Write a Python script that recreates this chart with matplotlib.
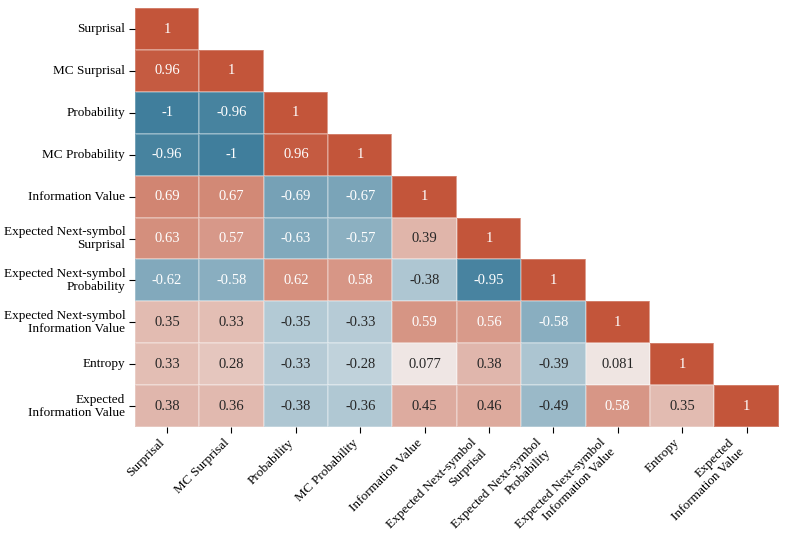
import numpy as np
import matplotlib
matplotlib.use("Agg")
import matplotlib.pyplot as plt
import seaborn as sns

# --- DATA ---
labels = [
    "Surprisal",
    "MC Surprisal",
    "Probability",
    "MC Probability",
    "Information Value",
    "Expected Next-symbol\nSurprisal",
    "Expected Next-symbol\nProbability",
    "Expected Next-symbol\nInformation Value",
    "Entropy",
    "Expected\nInformation Value",
]

# lower triangle of the correlation matrix, row by row
lower_rows = [
    [1],
    [0.96, 1],
    [-1, -0.96, 1],
    [-0.96, -1, 0.96, 1],
    [0.69, 0.67, -0.69, -0.67, 1],
    [0.63, 0.57, -0.63, -0.57, 0.39, 1],
    [-0.62, -0.58, 0.62, 0.58, -0.38, -0.95, 1],
    [0.35, 0.33, -0.35, -0.33, 0.59, 0.56, -0.58, 1],
    [0.33, 0.28, -0.33, -0.28, 0.077, 0.38, -0.39, 0.081, 1],
    [0.38, 0.36, -0.38, -0.36, 0.45, 0.46, -0.49, 0.58, 0.35, 1],
]

n = len(labels)
corr = np.zeros((n, n))
for i, row in enumerate(lower_rows):
    for j, v in enumerate(row):
        corr[i, j] = v
        corr[j, i] = v

mask = np.triu(np.ones((n, n), dtype=bool), k=1)

plt.rcParams['font.family'] = ['Liberation Serif', 'DejaVu Serif']

fig = plt.figure(figsize=(7.89, 5.45), dpi=100)
ax = fig.add_axes([0.171, 0.2165, 0.816, 0.7685])

cmap = sns.diverging_palette(230, 20, as_cmap=True)
sns.heatmap(corr, mask=mask, cmap=cmap, vmin=-1, vmax=1, center=0,
            annot=True, fmt=".2g", annot_kws={"size": 10.5},
            linewidths=0.3, linecolor=(1, 1, 1, 0.25), cbar=False,
            xticklabels=labels, yticklabels=labels, ax=ax)

ax.tick_params(axis='both', length=4, width=0.8, labelsize=9.5, pad=3)
plt.setp(ax.get_xticklabels(), rotation=45, ha='right')
plt.setp(ax.get_yticklabels(), rotation=0, ha='right', multialignment='right',
         linespacing=1.1)

fig.savefig("out.png", dpi=100)
